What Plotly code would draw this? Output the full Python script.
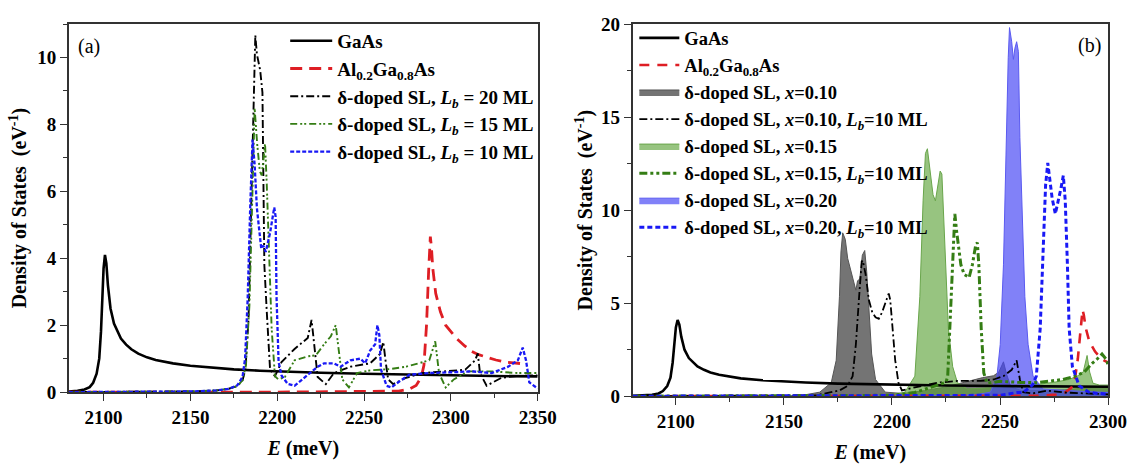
import plotly.graph_objects as go

# ---------------- Panel (a) data ----------------
E_GAAS = [2080, 2085, 2089, 2092, 2094, 2096, 2097.5, 2098.5, 2099.3, 2100, 2100.8, 2101.6, 2102.5,
          2104, 2106, 2108, 2110, 2113, 2116, 2120, 2125, 2130, 2140, 2150, 2160, 2175, 2190,
          2200, 2225, 2250, 2275, 2300, 2325, 2350]
DOS_GAAS = [0.02, 0.04, 0.08, 0.15, 0.28, 0.55, 1.0, 1.8, 2.8, 3.7, 4.1, 3.85, 3.2,
            2.5, 2.05, 1.8, 1.6, 1.42, 1.28, 1.15, 1.04, 0.96, 0.86, 0.79, 0.74, 0.68, 0.64,
            0.62, 0.58, 0.55, 0.52, 0.5, 0.48, 0.47]

E_AL = [2080, 2200, 2270, 2276, 2280, 2283, 2284.5, 2286, 2287.2, 2288.2, 2288.8, 2289.6, 2291.3,
        2294, 2297, 2300, 2303, 2308, 2312, 2316, 2320, 2326, 2331, 2337, 2343]
DOS_AL = [0.0, 0.0, 0.03, 0.09, 0.2, 0.45, 0.8, 2.0, 3.6, 4.65, 4.35, 3.7, 2.95,
          2.4, 2.0, 1.8, 1.62, 1.38, 1.22, 1.12, 1.05, 0.96, 0.9, 0.86, 0.84]

E_SL20 = [2080, 2150, 2165, 2172, 2177, 2180, 2181.7, 2183.5, 2185, 2186.5, 2187.4, 2188.3, 2190.2,
          2191.5, 2192, 2192.6, 2194, 2195.9, 2198.7, 2202.5, 2210, 2217.6, 2219.8, 2221.4, 2223.3,
          2228, 2232.7, 2242.2, 2253.5, 2259.2, 2261.1, 2262.6, 2263.9, 2266.8, 2274.3, 2283.8,
          2297, 2308.3, 2314, 2315.5, 2316.8, 2320.6, 2329.2, 2338, 2350]
DOS_SL20 = [0.0, 0.02, 0.05, 0.1, 0.18, 0.35, 0.67, 2.2, 5.5, 8.8, 10.67, 10.1, 9.62,
            8.95, 6.67, 3.8, 2.4, 0.67, 0.48, 0.9, 1.29, 1.62, 2.16, 1.33, 0.45,
            0.24, 0.57, 0.76, 0.86, 1.14, 1.5, 0.86, 0.38, 0.24, 0.43, 0.57,
            0.62, 0.67, 0.95, 1.16, 0.57, 0.19, 0.43, 0.48, 0.5]

E_SL15 = [2080, 2150, 2165, 2172, 2177, 2180, 2182, 2184, 2185.5, 2187, 2188.5, 2190, 2191.1, 2192,
          2193, 2194, 2194.9, 2196.8, 2198.7, 2200.6, 2204.4, 2210, 2217.6, 2222.3, 2227, 2230.9,
          2233.7, 2235.6, 2237.5, 2241.3, 2246, 2253.5, 2261.1, 2264.9, 2274.3, 2281.9, 2287.6,
          2291, 2292.3, 2293.2, 2297, 2301.7, 2310.2, 2323.5, 2338.6, 2350]
DOS_SL15 = [0.0, 0.02, 0.05, 0.1, 0.18, 0.35, 0.8, 2.6, 5.5, 8.48, 7.4, 6.6, 6.48, 7.0,
            7.43, 6.2, 4.76, 1.9, 0.48, 0.38, 0.45, 0.95, 1.07, 1.1, 1.43, 1.67,
            2.0, 1.24, 0.38, 0.14, 0.57, 0.65, 0.67, 0.69, 0.76, 0.86, 0.95,
            1.52, 1.05, 0.57, 0.14, 0.38, 0.62, 0.62, 0.57, 0.57]

E_SL10 = [2080, 2150, 2165, 2172, 2177, 2180, 2181.5, 2183, 2184.5, 2185.8, 2187, 2188.3, 2190.8,
          2192, 2193.4, 2195.9, 2198.3, 2199.1, 2199.6, 2200.8, 2202.5, 2206, 2210, 2215.7,
          2223.3, 2227, 2232.7, 2236.5, 2242.2, 2247.9, 2250.7, 2253.5, 2256.4, 2257.7, 2258.8,
          2259.8, 2263, 2265.8, 2270.6, 2276.2, 2287.6, 2298.9, 2312.1, 2323.5, 2333, 2338.6,
          2341.4, 2343.3, 2345.2, 2350]
DOS_SL10 = [0.0, 0.02, 0.05, 0.1, 0.2, 0.45, 1.0, 2.8, 5.6, 7.55, 6.8, 5.5, 4.29,
            4.38, 4.19, 4.76, 5.52, 5.24, 2.86, 0.9, 0.5, 0.25, 0.19, 0.43,
            0.76, 0.86, 0.86, 0.76, 0.95, 1.0, 0.86, 1.24, 1.43, 2.0, 1.71,
            0.67, 0.19, 0.14, 0.33, 0.52, 0.57, 0.59, 0.62, 0.57, 0.76, 0.95,
            1.33, 0.95, 0.29, 0.11]

# ---------------- Panel (b) data ----------------
E_X10 = [2080, 2150, 2160, 2166.6, 2171.9, 2174.2, 2175.7, 2176.4, 2177.2, 2178.4, 2179.5, 2181.8,
         2183.3, 2184.1, 2185.1, 2186.3, 2187.4, 2188.3, 2189.3, 2190.6, 2192.4, 2196.9, 2205,
         2215, 2225, 2235, 2242, 2247, 2249.5, 2251.6, 2253, 2255, 2260, 2270, 2280, 2290, 2300]
DOS_X10 = [0.0, 0.02, 0.08, 0.22, 0.73, 1.93, 5.35, 7.75, 8.78, 8.43, 7.41, 6.38,
           5.7, 6.21, 6.29, 7.58, 7.83, 6.72, 4.5, 2.27, 0.9, 0.22, 0.15,
           0.3, 0.5, 0.8, 1.0, 1.1, 1.3, 1.85, 1.2, 0.5, 0.3, 0.3, 0.35, 0.45, 0.5]

E_X15 = [2080, 2190, 2200, 2206, 2210.6, 2212.9, 2214.4, 2215.5, 2216.4, 2217.5, 2219, 2220.1,
         2221.2, 2222.3, 2223.1, 2224, 2225, 2226.1, 2228.1, 2230.3, 2234.9, 2245, 2255, 2265,
         2275, 2282, 2286, 2288.5, 2290.3, 2291.5, 2293, 2296, 2300]
DOS_X15 = [0.0, 0.02, 0.08, 0.22, 1.08, 5.35, 10.5, 13.05, 13.3, 12.2, 10.83, 10.5,
           11.34, 12.1, 11.94, 9.63, 6.2, 3.64, 1.59, 0.73, 0.39, 0.45, 0.55, 0.6,
           0.75, 0.9, 1.1, 1.3, 2.19, 1.3, 0.7, 0.6, 0.6]

E_X20 = [2080, 2230, 2240, 2245.6, 2248.6, 2250.1, 2251.6, 2252.8, 2253.8, 2254.4, 2255.4, 2256.2,
         2256.9, 2257.7, 2258.5, 2259.2, 2260.4, 2261.5, 2263, 2265.3, 2269.8, 2280, 2290, 2300]
DOS_X20 = [0.0, 0.02, 0.1, 0.22, 1.08, 2.79, 7.06, 13.9, 18.19, 19.81, 19.05, 18.1,
           18.7, 19.05, 18.53, 13.9, 8.78, 5.35, 2.79, 1.08, 0.39, 0.3, 0.25, 0.2]

E_X10L = [2080, 2165, 2175.7, 2179.5, 2181.8, 2183.3, 2184.8, 2186, 2186.5, 2187.8, 2189.3, 2190.9,
          2192.4, 2193.9, 2195.4, 2196.9, 2198.5, 2199.2, 2200.3, 2201.5, 2203, 2204.6, 2210.6,
          2221.2, 2230.3, 2241, 2247.1, 2251.6, 2255.4, 2257.7, 2259.2, 2260.7, 2265, 2272, 2280,
          2290, 2300]
DOS_X10L = [0.0, 0.05, 0.31, 0.56, 1.08, 2.79, 5.35, 7.24, 7.3, 6.55, 5.18, 4.5,
            4.24, 4.16, 4.5, 5.01, 5.52, 5.18, 3.64, 1.93, 0.73, 0.31, 0.48,
            0.73, 0.82, 0.82, 0.9, 1.08, 1.42, 1.93, 0.9, 0.22, 0.15, 0.3, 0.2,
            0.15, 0.1]

E_X15L = [2080, 2200, 2210.6, 2221.2, 2225, 2225.8, 2227.3, 2228.5, 2229.1, 2230, 2230.7, 2231.9,
          2233.4, 2235.7, 2237.2, 2238.7, 2239.5, 2240.2, 2241.3, 2242.5, 2244, 2250, 2258, 2266.8,
          2279, 2285, 2289, 2292.6, 2295, 2297.2, 2299.5, 2300]
DOS_X15L = [0.0, 0.05, 0.2, 0.6, 0.75, 1.08, 5.35, 8.78, 9.8, 8.78, 8.09, 7.06,
            6.55, 6.38, 7.06, 8.09, 8.26, 7.06, 3.64, 1.25, 0.7, 0.8, 0.75, 0.73,
            0.9, 1.08, 1.3, 1.76, 2.0, 2.27, 1.93, 1.6]

E_X20L = [2080, 2250, 2258, 2260.7, 2265, 2266.8, 2268.6, 2269.8, 2271.1, 2272.1, 2273.2, 2274.1,
          2275.6, 2276.7, 2278.2, 2279.3, 2280.2, 2281.2, 2282, 2283.5, 2286.6, 2291.1, 2295, 2300]
DOS_X20L = [0.0, 0.05, 0.2, 0.2, 0.6, 1.08, 3.64, 7.06, 11.34, 12.54, 11.51, 10.66,
            9.8, 10.32, 11.17, 11.86, 10.49, 7.06, 3.64, 1.59, 0.56, 0.22, 0.15, 0.12]

# ---------------- Labels ----------------
NAME_GAAS = "GaAs"
NAME_AL = "Al<sub>0.2</sub>Ga<sub>0.8</sub>As"
NAMES_A = ["δ-doped SL, <i>L<sub>b</sub></i> = 20 ML",
           "δ-doped SL, <i>L<sub>b</sub></i> = 15 ML",
           "δ-doped SL, <i>L<sub>b</sub></i> = 10 ML"]
NAMES_B = ["δ-doped SL, <i>x</i>=0.10",
           "δ-doped SL, <i>x</i>=0.10, <i>L<sub>b</sub></i>=10 ML",
           "δ-doped SL, <i>x</i>=0.15",
           "δ-doped SL, <i>x</i>=0.15, <i>L<sub>b</sub></i>=10 ML",
           "δ-doped SL, <i>x</i>=0.20",
           "δ-doped SL, <i>x</i>=0.20, <i>L<sub>b</sub></i>=10 ML"]

FONT = "Liberation Serif"
RED = "rgb(222,30,36)"
GREEN = "rgb(52,125,20)"
BLUE = "rgb(25,25,245)"

fig = go.Figure()

# ---- panel (a) ----
fig.add_trace(go.Scatter(x=E_GAAS, y=DOS_GAAS, name=NAME_GAAS, mode="lines",
                         line=dict(color="black", width=2.6), xaxis="x", yaxis="y", legend="legend"))
fig.add_trace(go.Scatter(x=E_AL, y=DOS_AL, name=NAME_AL, mode="lines",
                         line=dict(color=RED, width=2.8, dash="12px,7px"), xaxis="x", yaxis="y", legend="legend"))
fig.add_trace(go.Scatter(x=E_SL20, y=DOS_SL20, name=NAMES_A[0], mode="lines",
                         line=dict(color="black", width=1.9, dash="8px,3px,2px,3px"), xaxis="x", yaxis="y", legend="legend"))
fig.add_trace(go.Scatter(x=E_SL15, y=DOS_SL15, name=NAMES_A[1], mode="lines",
                         line=dict(color=GREEN, width=1.9, dash="7px,3px,2px,2px,2px,3px"), xaxis="x", yaxis="y", legend="legend"))
fig.add_trace(go.Scatter(x=E_SL10, y=DOS_SL10, name=NAMES_A[2], mode="lines",
                         line=dict(color=BLUE, width=2.3, dash="4px,2px"), xaxis="x", yaxis="y", legend="legend"))

# ---- panel (b) ----
fills = [(E_X10, DOS_X10, NAMES_B[0], "rgba(70,70,70,0.75)", "rgb(85,85,85)", 3),
         (E_X15, DOS_X15, NAMES_B[2], "rgba(95,165,60,0.65)", "rgb(105,165,75)", 5),
         (E_X20, DOS_X20, NAMES_B[4], "rgba(70,70,245,0.68)", "rgb(90,90,240)", 7)]
for ex, ey, nm, fc, lc, rk in fills:
    fig.add_trace(go.Scatter(x=ex, y=ey, name=nm, mode="lines", fill="tozeroy", fillcolor=fc,
                             line=dict(color=lc, width=1), xaxis="x2", yaxis="y2",
                             legend="legend2", legendrank=rk))
fig.add_trace(go.Scatter(x=E_GAAS, y=DOS_GAAS, name=NAME_GAAS, mode="lines",
                         line=dict(color="black", width=2.6), xaxis="x2", yaxis="y2",
                         legend="legend2", legendrank=1))
fig.add_trace(go.Scatter(x=E_AL, y=DOS_AL, name=NAME_AL, mode="lines",
                         line=dict(color=RED, width=2.6, dash="10px,8px"), xaxis="x2", yaxis="y2",
                         legend="legend2", legendrank=2))
fig.add_trace(go.Scatter(x=E_X10L, y=DOS_X10L, name=NAMES_B[1], mode="lines",
                         line=dict(color="black", width=1.8, dash="8px,3px,2px,3px"), xaxis="x2", yaxis="y2",
                         legend="legend2", legendrank=4))
fig.add_trace(go.Scatter(x=E_X15L, y=DOS_X15L, name=NAMES_B[3], mode="lines",
                         line=dict(color=GREEN, width=3.0, dash="8px,3px,3px,3px,3px,3px"), xaxis="x2", yaxis="y2",
                         legend="legend2", legendrank=6))
fig.add_trace(go.Scatter(x=E_X20L, y=DOS_X20L, name=NAMES_B[5], mode="lines",
                         line=dict(color=BLUE, width=3.0, dash="5px,3px"), xaxis="x2", yaxis="y2",
                         legend="legend2", legendrank=8))

W, H = 1148, 470
tickfont = dict(family=FONT, size=19, color="black", weight="bold")
titlefont = dict(family=FONT, size=20, color="black", weight="bold")

def xax(dom, rng, anchor):
    return dict(domain=dom, range=rng, anchor=anchor, showgrid=False, zeroline=False,
                showline=True, linecolor="#333", linewidth=1.5, mirror=True,
                ticks="outside", ticklen=7, tickwidth=1.3, tickcolor="#333",
                dtick=50, tick0=2100, tickfont=tickfont,
                minor=dict(dtick=25, tick0=2100, ticks="outside", ticklen=4, tickcolor="#333", tickwidth=1.2),
                title=dict(text="<i>E</i> (meV)", font=titlefont, standoff=14))

def yax(dom, rng, anchor, dt, mdt, so):
    return dict(domain=dom, range=rng, anchor=anchor, showgrid=False, zeroline=False,
                showline=True, linecolor="#333", linewidth=1.5, mirror=True,
                ticks="outside", ticklen=7, tickwidth=1.3, tickcolor="#333",
                dtick=dt, tick0=0, tickfont=tickfont,
                minor=dict(dtick=mdt, tick0=0, ticks="outside", ticklen=4, tickcolor="#333", tickwidth=1.2),
                title=dict(text="Density of States  (eV<sup>-1</sup>)", font=titlefont, standoff=so))

legfont = dict(family=FONT, size=19, color="black", weight="bold")
fig.update_layout(
    width=W, height=H,
    margin=dict(l=0, r=0, t=0, b=0),
    paper_bgcolor="white", plot_bgcolor="white",
    xaxis=xax([70 / W, 546.7 / W], [2080, 2350], "y"),
    yaxis=yax([1 - 400 / H, 1 - 14.7 / H], [0, 11], "x", 2, 1, 5),
    xaxis2=xax([643.3 / W, 1126.7 / W], [2080, 2300], "y2"),
    yaxis2=yax([1 - 404.3 / H, 1 - 14.7 / H], [0, 20], "x2", 5, 2.5, 3),
    legend=dict(x=290 / W, y=1 - 12.5 / H, xanchor="left", yanchor="top", bgcolor="rgba(0,0,0,0)",
                font=legfont, itemwidth=42, tracegroupgap=0),
    legend2=dict(x=645 / W, y=1 - 9.8 / H, xanchor="left", yanchor="top", bgcolor="rgba(0,0,0,0)",
                 font=dict(family=FONT, size=18.5, color="black", weight="bold"), itemwidth=40,
                 tracegroupgap=0),
    annotations=[
        dict(text="(a)", x=77 / W, y=1 - 38 / H, xref="paper", yref="paper", xanchor="left",
             yanchor="middle", showarrow=False, font=dict(family=FONT, size=20, color="black")),
        dict(text="(b)", x=1122 / W, y=1 - 37 / H, xref="paper", yref="paper", xanchor="right",
             yanchor="middle", showarrow=False, font=dict(family=FONT, size=20, color="black")),
    ],
)

fig.write_html(
    "out.html", config={"displayModeBar": False},
    post_script=("document.body.style.margin='0px';"
                 "document.body.style.overflow='hidden';"
                 "document.documentElement.style.overflow='hidden';"))
